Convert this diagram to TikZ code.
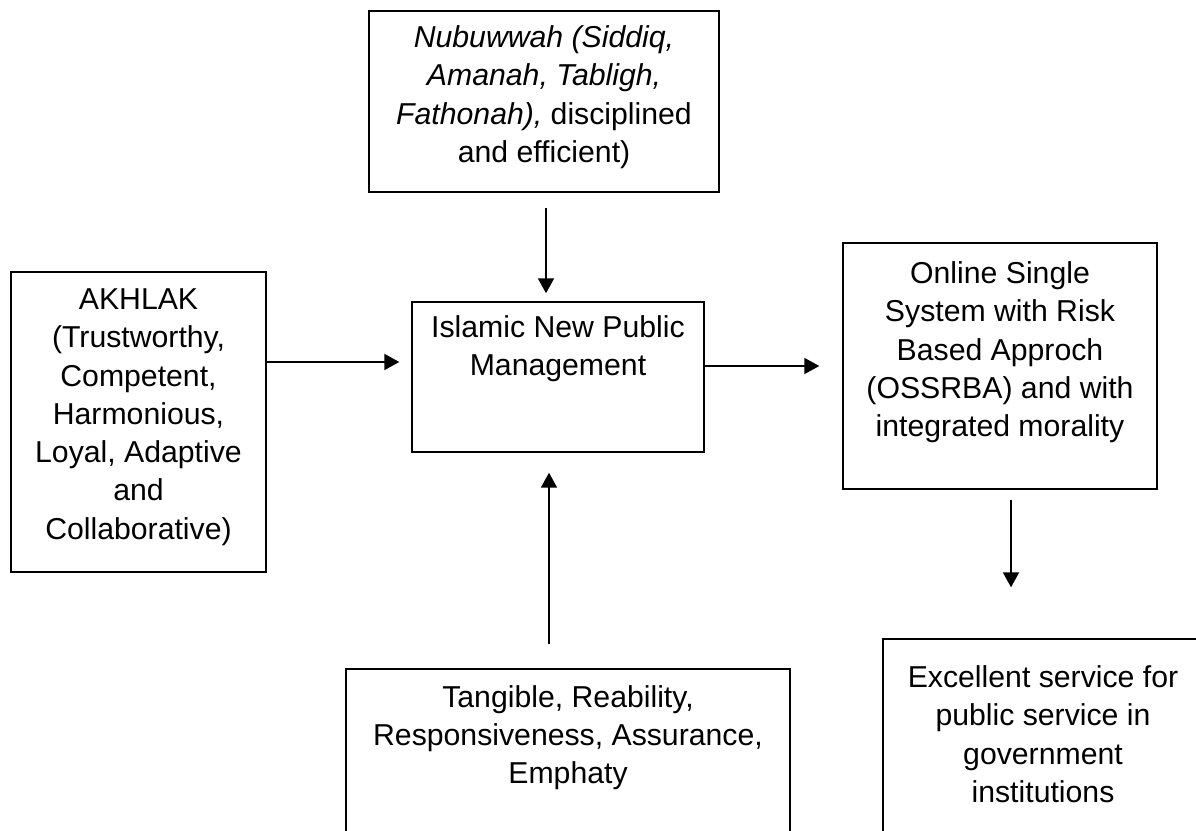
\documentclass[tikz,border=0pt]{standalone}
\usepackage{fontspec}
\setmainfont{Liberation Sans}
\usetikzlibrary{arrows.meta}

\begin{document}
\begin{tikzpicture}[x=0.02cm, y=-0.02cm]

    % Define styles
    \tikzset{
        box/.style={draw=black, line width=0.85pt, inner sep=0pt},
        box text/.style={anchor=north, align=center, inner sep=0pt,
            font=\fontsize{17.2pt}{21.8pt}\selectfont},
        flow/.style={-{Triangle[length=0.3cm, width=0.32cm]}, line width=1.1pt}
    }

    % Page frame and cut at the lower edge
    \useasboundingbox (0,0) rectangle (1196,831);
    \clip (0,0) rectangle (1196,831);

    % Boxes
    \node[box, minimum width=7cm, minimum height=3.62cm] (nubuwwah) at (544,101.5) {};
    \node[box, minimum width=5.1cm, minimum height=6cm] (akhlak) at (138.5,422) {};
    \node[box, minimum width=5.84cm, minimum height=3cm] (inpm) at (558,377) {};
    \node[box, minimum width=6.28cm, minimum height=4.92cm] (ossrba) at (1000,366) {};
    \node[box, minimum width=8.88cm, minimum height=4.22cm] (servqual) at (568,774.5) {};
    \node[box, minimum width=6.4cm, minimum height=4.82cm] (excellent) at (1043,759.5) {};

    % Texts of the boxes
    \node[box text, yshift=-0.3cm] (nubuwwah-text) at (nubuwwah.north)
        {\itshape Nubuwwah (Siddiq,\\ \itshape Amanah, Tabligh,\\
         \itshape Fathonah), \upshape disciplined\\ and efficient)};
    \node[box text, yshift=-0.34cm] (akhlak-text) at (akhlak.north)
        {AKHLAK\\ (Trustworthy,\\ Competent,\\ Harmonious,\\ Loyal, Adaptive\\ and\\ Collaborative)};
    \node[box text, yshift=-0.28cm] (inpm-text) at (inpm.north)
        {Islamic New Public\\ Management};
    \node[box text, yshift=-0.38cm] (ossrba-text) at (ossrba.north)
        {Online Single\\ System with Risk\\ Based Approch\\ (OSSRBA) and with\\ integrated morality};
    \node[box text, yshift=-0.33cm] (servqual-text) at (servqual.north)
        {Tangible, Reability,\\ Responsiveness, Assurance,\\ Emphaty};
    \node[box text, yshift=-0.54cm] (excellent-text) at (excellent.north)
        {Excellent service for\\ public service in\\ government\\ institutions};

    % Lines that the arrows run on
    \coordinate (row-akhlak) at (0,362);
    \coordinate (row-ossrba) at (0,366);
    \coordinate (col-top) at (546,0);
    \coordinate (col-bottom) at (549,0);
    \coordinate (col-right) at (1011,0);

    % Arrows
    \draw[flow, shorten >=0.24cm] (akhlak.east |- row-akhlak) -- (inpm.west |- row-akhlak);
    \draw[flow, shorten <=0.3cm, shorten >=0.16cm] (nubuwwah.south -| col-top) -- (inpm.north -| col-top);
    \draw[flow, shorten <=0.48cm, shorten >=0.4cm] (servqual.north -| col-bottom) -- (inpm.south -| col-bottom);
    \draw[flow, shorten >=0.46cm] (inpm.east |- row-ossrba) -- (ossrba.west |- row-ossrba);
    \draw[flow, shorten <=0.2cm, shorten >=1.02cm] (ossrba.south -| col-right) -- (excellent.north -| col-right);

\end{tikzpicture}
\end{document}
